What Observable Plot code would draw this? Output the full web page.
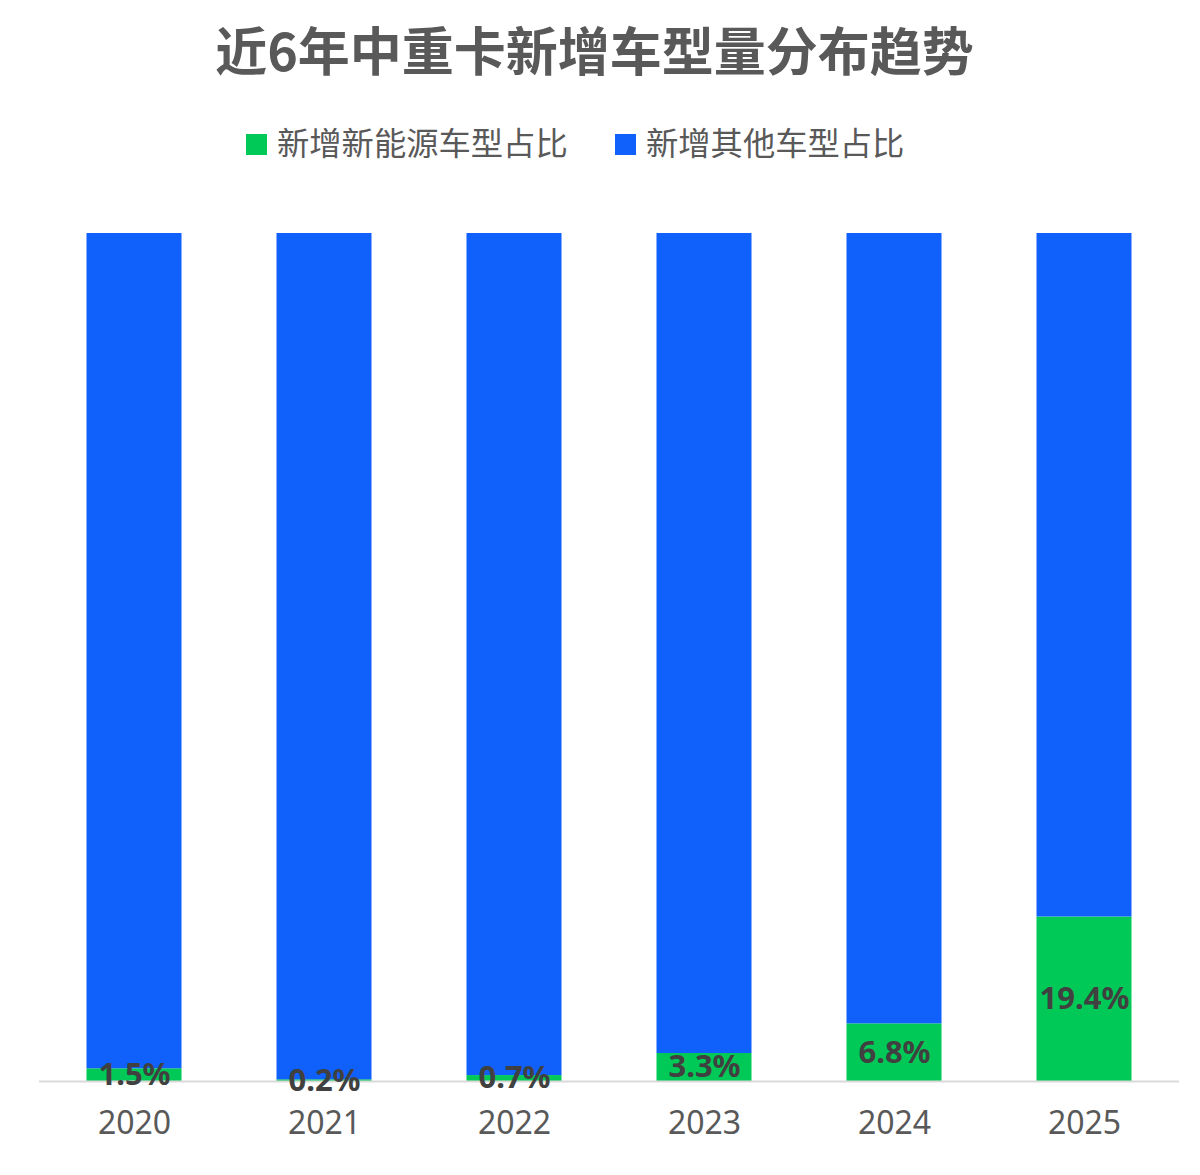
<!DOCTYPE html>
<html lang="zh">
<head>
<meta charset="utf-8">
<script src="https://cdn.jsdelivr.net/npm/d3@7"></script>
<script src="https://cdn.jsdelivr.net/npm/@observablehq/plot@0.6"></script>
<style>
  html, body { margin: 0; padding: 0; background: #fff; }
  body { width: 1200px; height: 1175px; position: relative; overflow: hidden;
         font-family: "Noto Sans CJK SC", "Noto Sans", sans-serif; color: #595959; }
  #title { position: absolute; left: 0; top: 15px; width: 1189px; text-align: center;
           font-size: 52px; line-height: 68px; font-weight: 700; white-space: nowrap; }
  #legend { position: absolute; top: 120px; left: 0; width: 100%; height: 42px; }
  .item { position: absolute; top: 0; height: 42px; display: flex; align-items: center;
          font-size: 32.3px; line-height: 42px; white-space: nowrap; }
  .swatch { width: 21px; height: 21px; margin-right: 10px; display: inline-block; position: relative; top: 3px; }
  #chart { position: absolute; left: 0; top: 200px; }
  #chart svg { display: block; }
</style>
</head>
<body>
<div id="title"></div>
<div id="legend"></div>
<div id="chart"></div>
<script>
const titleText = "近6年中重卡新增车型量分布趋势";
const years = ["2020", "2021", "2022", "2023", "2024", "2025"];
const newEnergyShare = [1.5, 0.2, 0.7, 3.3, 6.8, 19.4];
const otherShare = [98.5, 99.8, 99.3, 96.7, 93.2, 80.6];
const seriesNames = ["新增新能源车型占比", "新增其他车型占比"];
const seriesColors = ["#00c957", "#1061fb"];
const legendLefts = [246, 615];

document.getElementById("title").textContent = titleText;

const legend = document.getElementById("legend");
seriesNames.forEach((name, i) => {
  const item = document.createElement("div");
  item.className = "item";
  item.style.left = legendLefts[i] + "px";
  const sw = document.createElement("span");
  sw.className = "swatch";
  sw.style.background = seriesColors[i];
  item.appendChild(sw);
  item.appendChild(document.createTextNode(name));
  legend.appendChild(item);
});

const rows = [
  ...years.map((year, i) => ({year, series: seriesNames[0], value: newEnergyShare[i]})),
  ...years.map((year, i) => ({year, series: seriesNames[1], value: otherShare[i]}))
];
const labelRows = years.map((year, i) => ({year, mid: newEnergyShare[i] / 2, label: newEnergyShare[i].toFixed(1) + "%"}));

const chart = Plot.plot({
  width: 1200,
  height: 975,
  marginLeft: 39,
  marginRight: 21,
  marginTop: 33,
  marginBottom: 94,
  style: {background: "#fff", fontFamily: '"Noto Sans", "Noto Sans CJK SC", sans-serif'},
  x: {domain: years, paddingInner: 0.5, paddingOuter: 0.25, align: 0.5, round: false, label: null},
  y: {domain: [0, 100], axis: null, label: null},
  color: {domain: seriesNames, range: seriesColors},
  marks: [
    Plot.barY(rows, {x: "year", y: "value", fill: "series", order: seriesNames}),
    Plot.ruleY([0], {stroke: "#d9d9d9", strokeWidth: 2}),
    Plot.axisX({
      domain: years,
      tickSize: 0,
      tickPadding: 30,
      fontSize: 32,
      fill: "#595959",
      label: null
    }),
    Plot.text(labelRows, {
      x: "year",
      y: "mid",
      text: "label",
      fontSize: 31,
      fontWeight: 700,
      fill: "#404040"
    })
  ]
});
document.getElementById("chart").appendChild(chart);
</script>
</body>
</html>
